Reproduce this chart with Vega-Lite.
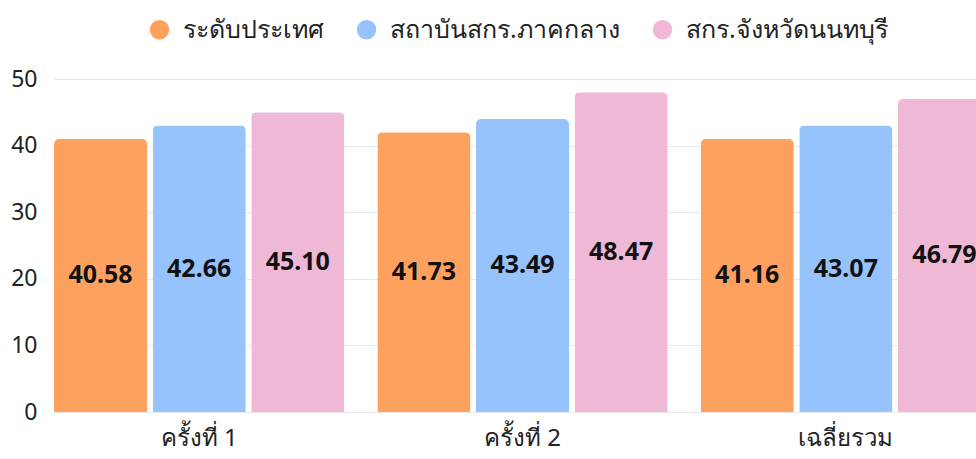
{
  "$schema": "https://vega.github.io/schema/vega-lite/v6.json",
  "autosize": {"type": "none"},
  "padding": {"left": 54, "top": 79, "right": 0, "bottom": 47},
  "width": 922,
  "height": 333,
  "background": "white",
  "config": {
    "view": {"stroke": null},
    "font": "Noto Sans",
    "axis": {"labelFont": "Noto Sans", "labelColor": "#222222"},
    "legend": {"labelFont": "Noto Sans"}
  },
  "data": {
    "values": [
      {"round": "ครั้งที่ 1", "series": "ระดับประเทศ", "bar": 41, "label": "40.58"},
      {"round": "ครั้งที่ 1", "series": "สถาบันสกร.ภาคกลาง", "bar": 43, "label": "42.66"},
      {"round": "ครั้งที่ 1", "series": "สกร.จังหวัดนนทบุรี", "bar": 45, "label": "45.10"},
      {"round": "ครั้งที่ 2", "series": "ระดับประเทศ", "bar": 42, "label": "41.73"},
      {"round": "ครั้งที่ 2", "series": "สถาบันสกร.ภาคกลาง", "bar": 44, "label": "43.49"},
      {"round": "ครั้งที่ 2", "series": "สกร.จังหวัดนนทบุรี", "bar": 48, "label": "48.47"},
      {"round": "เฉลี่ยรวม", "series": "ระดับประเทศ", "bar": 41, "label": "41.16"},
      {"round": "เฉลี่ยรวม", "series": "สถาบันสกร.ภาคกลาง", "bar": 43, "label": "43.07"},
      {"round": "เฉลี่ยรวม", "series": "สกร.จังหวัดนนทบุรี", "bar": 47, "label": "46.79"}
    ]
  },
  "transform": [
    {"calculate": "datum.bar / 2", "as": "mid"}
  ],
  "encoding": {
    "x": {
      "field": "round", "type": "nominal",
      "sort": ["ครั้งที่ 1", "ครั้งที่ 2", "เฉลี่ยรวม"],
      "scale": {"range": [0, 937], "paddingInner": 0.102, "paddingOuter": 0},
      "axis": {"title": null, "labelAngle": 0, "labelFontSize": 24, "ticks": false, "domain": false, "labelPadding": 14, "grid": false}
    },
    "xOffset": {
      "field": "series", "type": "nominal",
      "sort": ["ระดับประเทศ", "สถาบันสกร.ภาคกลาง", "สกร.จังหวัดนนทบุรี"],
      "scale": {"paddingInner": 0.056, "paddingOuter": 0}
    }
  },
  "layer": [
    {
      "mark": {"type": "bar", "cornerRadiusTopLeft": 5, "cornerRadiusTopRight": 5},
      "encoding": {
        "y": {
          "field": "bar", "type": "quantitative",
          "scale": {"domain": [0, 50], "nice": false},
          "axis": {"title": null, "values": [0, 10, 20, 30, 40, 50], "labelFontSize": 23, "ticks": false, "domain": false, "gridColor": "#e8e8e8", "labelPadding": 17}
        },
        "color": {
          "field": "series", "type": "nominal",
          "sort": ["ระดับประเทศ", "สถาบันสกร.ภาคกลาง", "สกร.จังหวัดนนทบุรี"],
          "scale": {"range": ["#FFA15E", "#97C3FC", "#EFB8D6"]},
          "legend": {
            "title": null, "orient": "none", "direction": "horizontal",
            "legendX": 93, "legendY": -62,
            "symbolType": "circle", "symbolSize": 380, "symbolStrokeWidth": 0,
            "labelFontSize": 25, "labelColor": "#222222", "columnPadding": 30, "labelOffset": 11, "labelLimit": 400
          }
        }
      }
    },
    {
      "mark": {"type": "text", "fontSize": 25, "fontWeight": "bold", "color": "#111111", "baseline": "middle"},
      "encoding": {
        "y": {"field": "mid", "type": "quantitative"},
        "text": {"field": "label", "type": "nominal"}
      }
    }
  ]
}
